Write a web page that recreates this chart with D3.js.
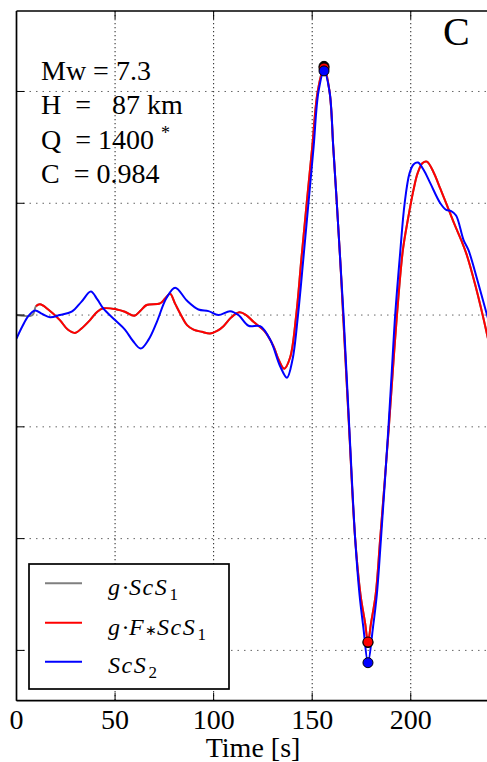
<!DOCTYPE html>
<html>
<head>
<meta charset="utf-8">
<script src="https://cdn.jsdelivr.net/npm/d3@7"></script>
<style>
  html, body { margin: 0; padding: 0; background: #fff; }
  svg { display: block; }
  text { font-family: "Liberation Serif", "Times New Roman", serif; }
</style>
</head>
<body>
<svg id="chart" width="487" height="762"></svg>
<script>
// Time axis ticks and amplitude grid levels
const xTicks = [0, 50, 100, 150, 200];
const yGrid = [2, 1, 0, -1, -2, -3];

// ScS2 (observed second multiple)
const scs2Time = [0, 3, 6, 9.4, 13, 17, 22, 28, 33, 37.7, 41, 44, 50, 55, 59, 63, 67, 71, 76, 80.5,
  86.4, 92.3, 97.4, 102.4, 108.4, 112.6, 117.7, 123.6, 128.7, 133.8, 137.2, 140, 142.8, 145.5,
  148.1, 150.7, 153.2, 156, 158.8, 160.7, 162.5, 164.2, 165.9, 168.8, 171.8, 174, 176, 178.3,
  180.8, 182.8, 184.9, 188.7, 190.4, 192.1, 194.6, 196.9, 199.4, 201.5, 203.7, 206.5, 209.9,
  215, 218, 220.5, 223, 226.8, 229.3, 234, 238.7, 242];
const scs2Amp = [-0.21, -0.1, -0.01, 0.04, 0.01, -0.02, 0.0, 0.03, 0.12, 0.21, 0.14, 0.06, -0.045,
  -0.13, -0.23, -0.3, -0.22, -0.07, 0.15, 0.245, 0.13, 0.05, 0.035, 0.0, 0.035, 0.0, -0.096, -0.1,
  -0.22, -0.46, -0.56, -0.4, 0.0, 0.5, 1.0, 1.5, 2.0, 2.184, 2.0, 1.5, 1.0, 0.5, 0.0, -1.0, -2.0,
  -2.5, -2.8, -3.11, -2.8, -2.5, -2.0, -1.0, -0.5, 0.0, 0.55, 1.0, 1.27, 1.35, 1.364, 1.3, 1.18,
  1.0, 0.94, 0.93, 0.89, 0.67, 0.58, 0.3, 0.0, -0.2];

// g·F*ScS1 (filtered, attenuated first multiple)
const filtTime = [9.9, 11.9, 16.1, 22, 26, 29.7, 33, 37.3, 41, 44, 50.9, 55, 59.8, 63, 66, 72.8,
  75.5, 77.9, 80.5, 83.9, 86.5, 89.8, 94, 98.2, 102, 105, 109, 113.1, 116.5, 120.2, 126.1, 130.4,
  133, 135.8, 138.8, 141.9, 144.5, 147.2, 150, 152.8, 156, 158.8, 160.7, 162.5, 164.2, 165.7,
  168.7, 171.8, 174.5, 176.9, 178.3, 179.8, 182.2, 184.5, 188.9, 190.9, 193, 196, 198.5, 201.4,
  203.5, 206, 208.2, 211.5, 215, 218, 222, 225.6, 228.2, 233, 238.8, 242];
const filtAmp = [0.08, 0.096, 0.05, -0.045, -0.13, -0.16, -0.12, -0.045, 0.03, 0.06, 0.05, 0.03,
  -0.006, 0.04, 0.09, 0.105, 0.15, 0.19, 0.1, -0.015, -0.09, -0.13, -0.15, -0.165, -0.14, -0.1,
  -0.02, 0.024, 0.0, -0.06, -0.15, -0.28, -0.4, -0.48, -0.38, 0.0, 0.5, 1.0, 1.5, 2.0, 2.21, 2.0,
  1.5, 1.0, 0.5, 0.0, -1.0, -2.0, -2.5, -2.76, -2.925, -2.76, -2.5, -2.0, -1.0, -0.5, 0.0, 0.58,
  0.85, 1.12, 1.27, 1.36, 1.373, 1.28, 1.13, 1.0, 0.82, 0.67, 0.55, 0.25, -0.18, -0.45];

// g·ScS1 (unfiltered first multiple)
const rawTime = [0, 8].concat(filtTime);
const rawAmp = [0, 0, 0.08, 0.096, 0.05, -0.045, -0.13, -0.16, -0.12, -0.045, 0.03, 0.06, 0.05, 0.03,
  -0.006, 0.04, 0.09, 0.105, 0.15, 0.19, 0.1, -0.015, -0.09, -0.13, -0.15, -0.165, -0.14, -0.1,
  -0.02, 0.024, 0.0, -0.06, -0.15, -0.28, -0.4, -0.48, -0.38, 0.0, 0.5, 1.0, 1.5, 2.0, 2.225, 2.0,
  1.5, 1.0, 0.5, 0.0, -1.0, -2.0, -2.5, -2.76, -2.93, -2.76, -2.5, -2.0, -1.0, -0.5, 0.0, 0.58,
  0.85, 1.12, 1.27, 1.36, 1.373, 1.28, 1.13, 1.0, 0.82, 0.67, 0.55, 0.25, -0.18, -0.45];

const seriesNames = ["g·ScS1", "g·F∗ScS1", "ScS2"];
const seriesColors = ["#7f7f7f", "#ff0000", "#0000ff"];

const svg = d3.select("#chart");
const pL = 16.5, pT = 11, pB = 700.7, pR = 489.6;

const x = d3.scaleLinear().domain([0, 240]).range([pL, pR]);
const y = d3.scaleLinear().domain([-3.45, 2.72]).range([pB, pT]);

// grid
const grid = svg.append("g");
grid.selectAll("line.vg").data(xTicks.filter(d => d > 0)).join("line")
  .attr("class", "vg")
  .attr("x1", d => x(d)).attr("x2", d => x(d))
  .attr("y1", pT).attr("y2", pB)
  .attr("stroke", "#222").attr("stroke-width", 1).attr("stroke-dasharray", "1.3,2.7");
grid.selectAll("line.hg").data(yGrid).join("line")
  .attr("class", "hg")
  .attr("x1", pL).attr("x2", pR)
  .attr("y1", d => y(d)).attr("y2", d => y(d))
  .attr("stroke", "#666").attr("stroke-width", 1).attr("stroke-dasharray", "1.5,5");

// traces
svg.append("clipPath").attr("id", "plotclip").append("rect")
  .attr("x", pL).attr("y", pT).attr("width", pR - pL).attr("height", pB - pT);

const line = d3.line().x(d => x(d[0])).y(d => y(d[1])).curve(d3.curveCatmullRom.alpha(0.5));
const traces = [
  d3.zip(rawTime, rawAmp),
  d3.zip(filtTime, filtAmp),
  d3.zip(scs2Time, scs2Amp)
];
const plot = svg.append("g").attr("clip-path", "url(#plotclip)");
traces.forEach((pts, i) => {
  plot.append("path").datum(pts)
    .attr("fill", "none").attr("stroke", seriesColors[i]).attr("stroke-width", 2)
    .attr("stroke-linejoin", "round").attr("d", line);
});

// peak and trough markers
const markerFill = ["#000", "#ff0000", "#0000ff"];
traces.forEach((pts, i) => {
  const hi = pts[d3.maxIndex(pts, p => p[1])];
  const lo = pts[d3.minIndex(pts, p => p[1])];
  [hi, lo].forEach(p => {
    plot.append("circle").attr("cx", x(p[0])).attr("cy", y(p[1])).attr("r", 5)
      .attr("fill", markerFill[i]).attr("stroke", "#000").attr("stroke-width", 1);
  });
});

// frame
const frame = svg.append("g").attr("stroke", "#000").attr("stroke-width", 1.7);
frame.append("line").attr("x1", pL).attr("x2", pL).attr("y1", pT).attr("y2", pB);
frame.append("line").attr("x1", pL).attr("x2", pR).attr("y1", pT).attr("y2", pT);
frame.append("line").attr("x1", pL).attr("x2", pR).attr("y1", pB).attr("y2", pB);
frame.append("line").attr("x1", pR).attr("x2", pR).attr("y1", pT).attr("y2", pB);

// inward ticks
const ticks = svg.append("g").attr("stroke", "#000").attr("stroke-width", 1);
xTicks.forEach(t => {
  ticks.append("line").attr("x1", x(t)).attr("x2", x(t)).attr("y1", pB).attr("y2", pB - 8);
  ticks.append("line").attr("x1", x(t)).attr("x2", x(t)).attr("y1", pT).attr("y2", pT + 8);
});
yGrid.forEach(v => {
  ticks.append("line").attr("x1", pL).attr("x2", pL + 8).attr("y1", y(v)).attr("y2", y(v));
});

// tick labels
svg.append("g").selectAll("text").data(xTicks).join("text")
  .attr("x", d => x(d)).attr("y", 729).attr("text-anchor", "middle")
  .attr("font-size", 28).text(d => d);

svg.append("text").attr("x", (pL + pR) / 2).attr("y", 757).attr("text-anchor", "middle")
  .attr("font-size", 28).text("Time [s]");

// panel letter
svg.append("text").attr("x", 443).attr("y", 45).attr("font-size", 40).text("C");

// source parameters
const params = ["Mw = 7.3", "H  =   87 km", "Q  = 1400", "C  = 0.984"];
params.forEach((s, i) => {
  svg.append("text").attr("x", 41).attr("y", 80 + i * 34.3).attr("font-size", 28)
    .style("white-space", "pre").text(s);
});
svg.append("text").attr("x", 161).attr("y", 139).attr("font-size", 18).text("*");

// legend
const lg = svg.append("g");
lg.append("rect").attr("x", 29).attr("y", 564).attr("width", 200).attr("height", 125)
  .attr("fill", "#fff").attr("stroke", "#000").attr("stroke-width", 1.7);
const rowY = [583.3, 622.7, 661.7];
seriesNames.forEach((n, i) => {
  lg.append("line").attr("x1", 45).attr("x2", 82).attr("y1", rowY[i]).attr("y2", rowY[i])
    .attr("stroke", seriesColors[i]).attr("stroke-width", 2);
});
function label(xPos, yPos, txt, opts = {}) {
  return lg.append("text").attr("x", xPos).attr("y", yPos)
    .attr("font-size", opts.size || 24).attr("font-style", opts.upright ? "normal" : "italic")
    .attr("font-family", opts.family || null)
    .attr("letter-spacing", opts.ls || 0).text(txt);
}
// row 1: g · ScS_1
label(108, 595, "g");
label(121.5, 595, "·", {upright: true});
label(129, 595, "ScS", {ls: 1.5});
label(169.5, 600, "1", {upright: true, size: 17});
// row 2: g · F ∗ ScS_1
label(108, 634.5, "g");
label(121.5, 634.5, "·", {upright: true});
label(129, 634.5, "F");
label(145, 634.5, "∗", {upright: true, size: 14, family: "DejaVu Sans"});
label(157, 634.5, "ScS", {ls: 1.5});
label(197.5, 639.5, "1", {upright: true, size: 17});
// row 3: ScS_2
label(108, 673, "ScS", {ls: 1.5});
label(148.5, 678, "2", {upright: true, size: 17});
</script>
</body>
</html>
